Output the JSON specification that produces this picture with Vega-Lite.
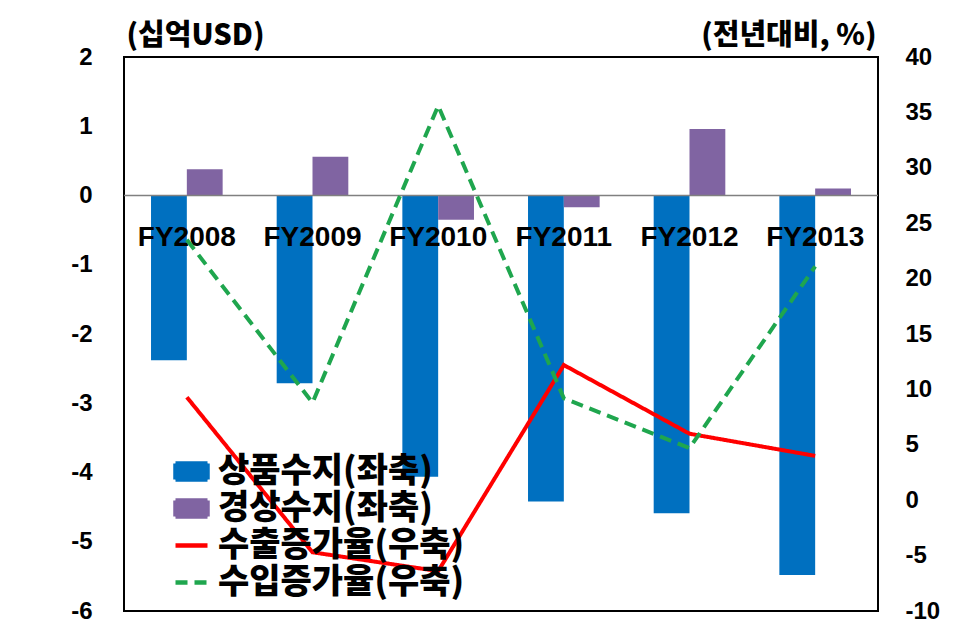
{
  "$schema": "https://vega.github.io/schema/vega-lite/v6.json",
  "width": 754,
  "height": 554,
  "autosize": {"type": "none"},
  "padding": {"left": 124, "top": 57, "right": 99, "bottom": 27},
  "background": "white",
  "config": {
    "view": {"stroke": "black", "strokeWidth": 2},
    "font": "Noto Sans CJK KR"
  },
  "datasets": {
    "bars": [
      {"year": "FY2008", "series": "상품수지(좌축)", "value": -2.38},
      {"year": "FY2008", "series": "경상수지(좌축)", "value": 0.38},
      {"year": "FY2009", "series": "상품수지(좌축)", "value": -2.71},
      {"year": "FY2009", "series": "경상수지(좌축)", "value": 0.56},
      {"year": "FY2010", "series": "상품수지(좌축)", "value": -4.06},
      {"year": "FY2010", "series": "경상수지(좌축)", "value": -0.35},
      {"year": "FY2011", "series": "상품수지(좌축)", "value": -4.42},
      {"year": "FY2011", "series": "경상수지(좌축)", "value": -0.17},
      {"year": "FY2012", "series": "상품수지(좌축)", "value": -4.59},
      {"year": "FY2012", "series": "경상수지(좌축)", "value": 0.96},
      {"year": "FY2013", "series": "상품수지(좌축)", "value": -5.48},
      {"year": "FY2013", "series": "경상수지(좌축)", "value": 0.1}
    ],
    "lines": [
      {"year": "FY2008", "series": "수출증가율(우축)", "value": 9.3},
      {"year": "FY2009", "series": "수출증가율(우축)", "value": -4.7},
      {"year": "FY2010", "series": "수출증가율(우축)", "value": -6.4},
      {"year": "FY2011", "series": "수출증가율(우축)", "value": 12.2},
      {"year": "FY2012", "series": "수출증가율(우축)", "value": 6.0},
      {"year": "FY2013", "series": "수출증가율(우축)", "value": 4.0},
      {"year": "FY2008", "series": "수입증가율(우축)", "value": 23.5},
      {"year": "FY2009", "series": "수입증가율(우축)", "value": 8.8},
      {"year": "FY2010", "series": "수입증가율(우축)", "value": 35.6},
      {"year": "FY2011", "series": "수입증가율(우축)", "value": 9.2},
      {"year": "FY2012", "series": "수입증가율(우축)", "value": 4.7},
      {"year": "FY2013", "series": "수입증가율(우축)", "value": 21.1}
    ],
    "years": [
      {"year": "FY2008"}, {"year": "FY2009"}, {"year": "FY2010"},
      {"year": "FY2011"}, {"year": "FY2012"}, {"year": "FY2013"}
    ]
  },
  "layer": [
    {
      "layer": [
        {
          "data": {"name": "bars"},
          "mark": {"type": "bar"},
          "encoding": {
            "x": {"field": "year", "type": "nominal", "axis": null,
                  "scale": {"paddingInner": 0.43, "paddingOuter": 0.215}},
            "xOffset": {"field": "series", "type": "nominal",
                        "scale": {"domain": ["상품수지(좌축)", "경상수지(좌축)"], "paddingInner": 0, "paddingOuter": 0}},
            "y": {"field": "value", "type": "quantitative",
                  "scale": {"domain": [-6, 2], "nice": false, "zero": false},
                  "axis": {
                    "values": [-6, -5, -4, -3, -2, -1, 0, 1, 2],
                    "labelExpr": "'' + datum.value",
                    "grid": false, "domain": false, "ticks": false,
                    "labelFont": "Liberation Sans", "labelFontWeight": "bold",
                    "labelFontSize": 24, "labelColor": "black", "labelPadding": 32,
                    "title": "(십억USD)", "titleAngle": 0, "titleX": 2, "titleY": -7,
                    "titleAlign": "left", "titleBaseline": "bottom",
                    "titleFont": "Noto Sans CJK KR", "titleFontSize": 29, "titleFontWeight": 900, "titleColor": "black"
                  }},
            "color": {"field": "series", "type": "nominal",
                      "scale": {"domain": ["상품수지(좌축)", "경상수지(좌축)", "수출증가율(우축)", "수입증가율(우축)"],
                                "range": ["#0070C0", "#8064A2", "#FF0000", "#1FA64E"]},
                      "legend": {
                        "title": null, "orient": "none", "legendX": 49, "legendY": 396,
                        "labelFont": "Noto Sans CJK KR", "labelFontSize": 34, "labelFontWeight": 900,
                        "labelColor": "black", "labelOffset": 8, "rowPadding": 1, "labelLimit": 400,
                        "symbolSize": 1024,
                        "symbolType": "M-1,-0.5H1V0.5H-1Z",
                        "encode": {
                          "symbols": {
                            "update": {
                              "shape": [
                                {"test": "indexof(datum.value, '우축') >= 0", "value": "M-1,0H1"},
                                {"value": "M-1,-0.5H1V0.5H-1Z"}
                              ],
                              "fill": [
                                {"test": "indexof(datum.value, '우축') >= 0", "value": "transparent"},
                                {"scale": "color", "field": "value"}
                              ],
                              "stroke": [
                                {"test": "indexof(datum.value, '우축') >= 0", "scale": "color", "field": "value"},
                                {"value": "transparent"}
                              ],
                              "strokeWidth": {"value": 4.5},
                              "strokeDash": [
                                {"test": "datum.value == '수입증가율(우축)'", "value": [12, 7]},
                                {"value": [1, 0]}
                              ],
                              "opacity": {"value": 1}
                            }
                          }
                        }
                      }}
          }
        },
        {
          "data": {"values": [{"v": 0}]},
          "mark": {"type": "rule", "color": "#808080", "strokeWidth": 1.5},
          "encoding": {"y": {"datum": 0}}
        },
        {
          "data": {"name": "years"},
          "mark": {"type": "text", "font": "Liberation Sans", "fontWeight": "bold", "fontSize": 28,
                   "color": "black", "baseline": "middle", "align": "center"},
          "encoding": {
            "x": {"field": "year", "type": "nominal"},
            "y": {"datum": -0.62},
            "text": {"field": "year"}
          }
        }
      ]
    },
    {
      "data": {"name": "lines"},
      "mark": {"type": "line", "strokeWidth": 4},
      "encoding": {
        "x": {"field": "year", "type": "nominal"},
        "y": {"field": "value", "type": "quantitative",
              "scale": {"domain": [-10, 40], "nice": false, "zero": false},
              "axis": {
                "orient": "right",
                "values": [-10, -5, 0, 5, 10, 15, 20, 25, 30, 35, 40],
                "labelExpr": "'' + datum.value",
                "grid": false, "domain": false, "ticks": false,
                "labelFont": "Liberation Sans", "labelFontWeight": "bold",
                "labelFontSize": 24, "labelColor": "black", "labelPadding": 27,
                "title": "(전년대비, %)", "titleAngle": 0, "titleX": -2, "titleY": -7,
                "titleAlign": "right", "titleBaseline": "bottom",
                "titleFont": "Noto Sans CJK KR", "titleFontSize": 29, "titleFontWeight": 900, "titleColor": "black"
              }},
        "color": {"field": "series", "type": "nominal"},
        "strokeDash": {"field": "series", "type": "nominal",
                       "scale": {"domain": ["수출증가율(우축)", "수입증가율(우축)"], "range": [[1, 0], [12, 7]]},
                       "legend": null}
      }
    }
  ],
  "resolve": {"scale": {"y": "independent"}}
}
